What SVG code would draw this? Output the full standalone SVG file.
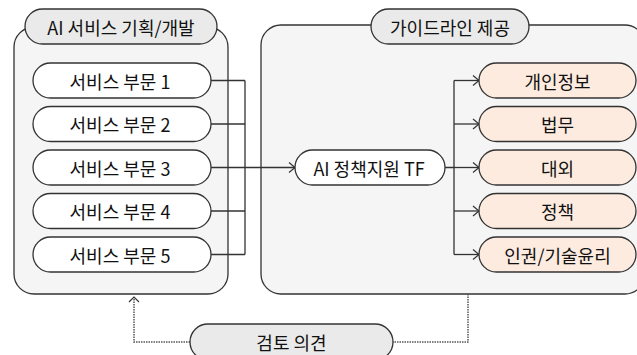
<svg xmlns="http://www.w3.org/2000/svg" width="637" height="355" viewBox="0 0 637 355">
<style>
.cont{fill:#f5f5f5;stroke:#333;stroke-width:1.3}
.title{fill:#e9eae9;stroke:#333;stroke-width:1.3}
.node{fill:#ffffff;stroke:#333;stroke-width:1.3}
.cat{fill:#fdebdf;stroke:#333;stroke-width:1.3}
.lbl{font-family:"Noto Sans CJK KR","Noto Sans",sans-serif;font-size:18px;font-weight:400;fill:#111;text-anchor:middle;dominant-baseline:central}
.ln{fill:none;stroke:#333;stroke-width:1.3}
.dot{fill:none;stroke:#555;stroke-width:1.5;stroke-dasharray:1.5 1}
</style>
<defs>
<marker id="ah" markerWidth="10" markerHeight="12" refX="7" refY="6" orient="auto" markerUnits="userSpaceOnUse">
<path d="M1,1 L7,6 L1,11" fill="none" stroke="#333" stroke-width="1.2"/>
</marker>
</defs>
<g id="container-left">
<rect class="cont" x="14" y="27" width="214" height="267" rx="20"/>
</g>
<g id="container-right">
<rect class="cont" x="261" y="25" width="384" height="269" rx="20"/>
</g>
<g id="connectors">
<path class="ln" d="M211,80.5 H245 M211,124 H245 M211,211 H245 M211,254.5 H245 M245,80.5 V254.5"/>
<path class="ln" d="M211,167.5 H295" marker-end="url(#ah)"/>
<path class="ln" d="M445,167.5 H454 M454,80.5 V254.5"/>
<path class="ln" d="M454,80.5 H479" marker-end="url(#ah)"/>
<path class="ln" d="M454,124 H479" marker-end="url(#ah)"/>
<path class="ln" d="M454,167.5 H479" marker-end="url(#ah)"/>
<path class="ln" d="M454,211 H479" marker-end="url(#ah)"/>
<path class="ln" d="M454,254.5 H479" marker-end="url(#ah)"/>
<path class="dot" d="M468,294 V342 H393"/>
<path class="dot" d="M190,342 H134 V297"/>
<path d="M129,302 L134,297 L139,302" fill="none" stroke="#333" stroke-width="1.2"/>
</g>
<g id="title-left">
<rect class="title" x="25" y="9" width="192" height="35" rx="17.5"/>
<text class="lbl" x="121" y="26.5">AI 서비스 기획/개발</text>
</g>
<g id="title-right">
<rect class="title" x="371" y="9" width="158" height="35" rx="17.5"/>
<text class="lbl" x="450" y="26.5">가이드라인 제공</text>
</g>
<g id="svc1"><rect class="node" x="33" y="63" width="178" height="35" rx="17.5"/><text class="lbl" x="120" y="80.5">서비스 부문 1</text></g>
<g id="svc2"><rect class="node" x="33" y="106.5" width="178" height="35" rx="17.5"/><text class="lbl" x="120" y="124">서비스 부문 2</text></g>
<g id="svc3"><rect class="node" x="33" y="150" width="178" height="35" rx="17.5"/><text class="lbl" x="120" y="167.5">서비스 부문 3</text></g>
<g id="svc4"><rect class="node" x="33" y="193.5" width="178" height="35" rx="17.5"/><text class="lbl" x="120" y="211">서비스 부문 4</text></g>
<g id="svc5"><rect class="node" x="33" y="237" width="178" height="35" rx="17.5"/><text class="lbl" x="120" y="254.5">서비스 부문 5</text></g>
<g id="tf"><rect class="node" x="295" y="150" width="150" height="35" rx="17.5"/><text class="lbl" x="369" y="167.5">AI 정책지원 TF</text></g>
<g id="cat1"><rect class="cat" x="479" y="63" width="157" height="35" rx="17.5"/><text class="lbl" x="557.5" y="80.5">개인정보</text></g>
<g id="cat2"><rect class="cat" x="479" y="106.5" width="157" height="35" rx="17.5"/><text class="lbl" x="557.5" y="124">법무</text></g>
<g id="cat3"><rect class="cat" x="479" y="150" width="157" height="35" rx="17.5"/><text class="lbl" x="557.5" y="167.5">대외</text></g>
<g id="cat4"><rect class="cat" x="479" y="193.5" width="157" height="35" rx="17.5"/><text class="lbl" x="557.5" y="211">정책</text></g>
<g id="cat5"><rect class="cat" x="479" y="237" width="157" height="35" rx="17.5"/><text class="lbl" x="557.5" y="254.5">인권/기술윤리</text></g>
<g id="review"><rect class="title" x="190" y="324" width="203" height="36" rx="18"/><text class="lbl" x="291.5" y="342">검토 의견</text></g>
</svg>
